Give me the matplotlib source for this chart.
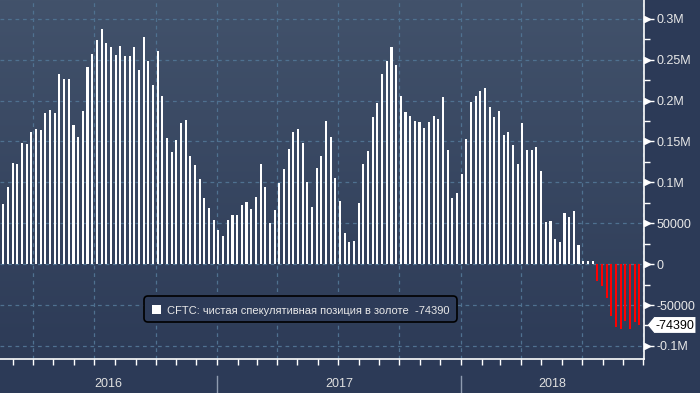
import numpy as np
import pandas as pd
import matplotlib
matplotlib.use('Agg')
import matplotlib.pyplot as plt
import matplotlib.dates as mdates
import matplotlib.transforms as mtransforms
from matplotlib.ticker import MultipleLocator, FixedLocator, NullFormatter
from matplotlib.patches import FancyBboxPatch, Polygon, Rectangle
from matplotlib import font_manager

# ---------------- data ----------------
first_date = '2016-02-16'
net_position = [
    74000, 94000, 124000, 122000, 148000, 147000, 161000, 165000, 164000, 185000,
    188000, 185000, 233000, 226000, 227000, 170000, 155000, 187000, 241000, 257000,
    274000, 287000, 271000, 265000, 256000, 267000, 255000, 254000, 265000, 238000,
    278000, 249000, 219000, 261000, 205000, 154000, 137000, 152000, 172000, 176000,
    132000, 121000, 104000, 81000, 69000, 54000, 42000, 35000, 54000, 60000,
    60000, 72000, 76000, 67000, 82000, 122000, 94000, 50000, 66000, 99000,
    116000, 141000, 161000, 165000, 148000, 100000, 70000, 117000, 132000, 175000,
    155000, 105000, 77000, 38000, 27000, 28000, 75000, 122000, 138000, 180000,
    197000, 232000, 249000, 265000, 243000, 205000, 186000, 181000, 175000, 174000,
    166000, 174000, 181000, 177000, 204000, 139000, 81000, 87000, 110000, 153000,
    198000, 205000, 212000, 216000, 192000, 180000, 187000, 158000, 162000, 146000,
    123000, 173000, 139000, 139000, 143000, 114000, 52000, 53000, 31000, 27000,
    62000, 58000, 65000, 24000, 4000, 4000, 4000, -21000, -27000, -41000,
    -63000, -77000, -79000, -69000, -79000, -71000, -74390,
]
series_label = 'CFTC: чистая спекулятивная позиция в золоте'
ytick_values = [-100000, -50000, 0, 50000, 100000, 150000, 200000, 250000, 300000]
ytick_labels = ['-0.1M', '-50000', '0', '50000', '0.1M', '0.15M', '0.2M', '0.25M', '0.3M']
year_labels = ['2016', '2017', '2018']

dates = pd.date_range(first_date, periods=len(net_position), freq='7D')

# ---------------- style ----------------
names = {f.name for f in font_manager.fontManager.ttflist}
NARROW = 'Liberation Sans Narrow' if 'Liberation Sans Narrow' in names else 'Liberation Sans'
TICK_FS = 10 if NARROW == 'Liberation Sans Narrow' else 9
plt.rcParams['font.family'] = ['Liberation Sans', 'DejaVu Sans']

W, H = 700, 393
fig = plt.figure(figsize=(W / 100, H / 100), dpi=100, facecolor='#2c3a57')
ax_pos = [0, 34 / H, 644 / W, 359 / H]

# gradient background
bg = fig.add_axes(ax_pos, zorder=0)
top = np.array([66, 82, 107]) / 255
bot = np.array([45, 59, 87]) / 255
t = np.linspace(0, 1, 256)[:, None]
grad = (top[None, :] * (1 - t) + bot[None, :] * t)[:, None, :]
bg.imshow(grad, aspect='auto', extent=[0, 1, 0, 1], interpolation='bilinear')
bg.axis('off')

ax = fig.add_axes(ax_pos, zorder=1)
ax.set_facecolor('none')

colors = ['#ffffff' if v >= 0 else '#ff0000' for v in net_position]
ax.bar(dates, net_position, width=3.1, color=colors, linewidth=0, zorder=3)

x0 = pd.Timestamp('2016-02-11')
x1 = x0 + pd.Timedelta(days=964)
ax.set_xlim(x0, x1)
ax.set_ylim(-116000, 323000)

# y axis on the right
ax.yaxis.tick_right()
ax.yaxis.set_major_locator(FixedLocator(ytick_values))
ax.set_yticklabels(ytick_labels)
ax.yaxis.set_minor_locator(MultipleLocator(25000))
ax.tick_params(axis='y', which='major', length=7, width=1, color='white',
               labelcolor='#e8e8e8', labelsize=TICK_FS, pad=2)
ax.tick_params(axis='y', which='minor', length=4, width=1, color='white')
for lab in ax.get_yticklabels():
    lab.set_fontfamily(NARROW)

# x axis: quarters for grid, months for ticks
ax.xaxis.set_major_locator(mdates.MonthLocator(bymonth=[1, 4, 7, 10]))
ax.xaxis.set_minor_locator(mdates.MonthLocator())
ax.xaxis.set_major_formatter(NullFormatter())
ax.tick_params(axis='x', which='both', length=4, width=1, color='white', direction='out')

ax.grid(True, which='major', color='#4f7190', linestyle=(0, (3, 3)), linewidth=0.9, zorder=1)
ax.set_axisbelow(True)

for s in ['left', 'top']:
    ax.spines[s].set_visible(False)
for s in ['right', 'bottom']:
    ax.spines[s].set_color('white')
    ax.spines[s].set_linewidth(1.2)

# small triangle markers at major y ticks
blend_y = mtransforms.blended_transform_factory(ax.transAxes, ax.transData)
tri_tr = mtransforms.offset_copy(blend_y, fig=fig, x=3, y=0, units='dots')
ax.plot([1] * len(ytick_values), ytick_values, linestyle='none', marker='>',
        markersize=4.5, color='white', transform=tri_tr, clip_on=False, zorder=5)

# year labels and separators
blend_x = mtransforms.blended_transform_factory(ax.transData, fig.transFigure)
bounds = [x0] + [pd.Timestamp(f'{y}-01-01') for y in year_labels[1:]] + [x1]
for i, lab in enumerate(year_labels):
    a, b = bounds[i], bounds[i + 1]
    mid = a + (b - a) / 2
    ax.text(mdates.date2num(mid), (H - 384) / H, lab, transform=blend_x,
            ha='center', va='center', color='#e0e0e0', fontsize=TICK_FS,
            family=NARROW, clip_on=False)
for b in bounds[1:-1]:
    ax.plot([mdates.date2num(b)] * 2, [0, 17 / H], transform=blend_x,
            color='#8f9bb0', linewidth=1, clip_on=False)

# last value tag
ident = mtransforms.IdentityTransform()
yc = ax.transData.transform((mdates.date2num(dates[-1]), net_position[-1]))[1]
hh = 8.5
tag = Polygon([(647, yc), (654, yc + hh), (696, yc + hh), (696, yc - hh), (654, yc - hh)],
              closed=True, facecolor='white', edgecolor='#2c3a57', linewidth=0.8,
              transform=ident)
fig.add_artist(tag)
fig.text(675, yc, f'{net_position[-1]}', transform=ident, ha='center',
         va='center_baseline', color='black', fontsize=TICK_FS, family=NARROW)

# legend box
leg = FancyBboxPatch((144, H - 322), 313, 26, boxstyle='round,pad=0,rounding_size=4',
                     facecolor='#2d3b58', edgecolor='black', linewidth=1.2,
                     transform=ident, zorder=6)
fig.add_artist(leg)
fig.add_artist(Rectangle((152, H - 314), 9, 9, facecolor='white', edgecolor='none',
                         transform=ident, zorder=7))
fig.text(167, H - 309.5, f'{series_label}  {net_position[-1]}', transform=ident,
         ha='left', va='center_baseline', color='#e8e8e8', fontsize=8, zorder=7)

fig.savefig('out.png', dpi=100, facecolor=fig.get_facecolor())
